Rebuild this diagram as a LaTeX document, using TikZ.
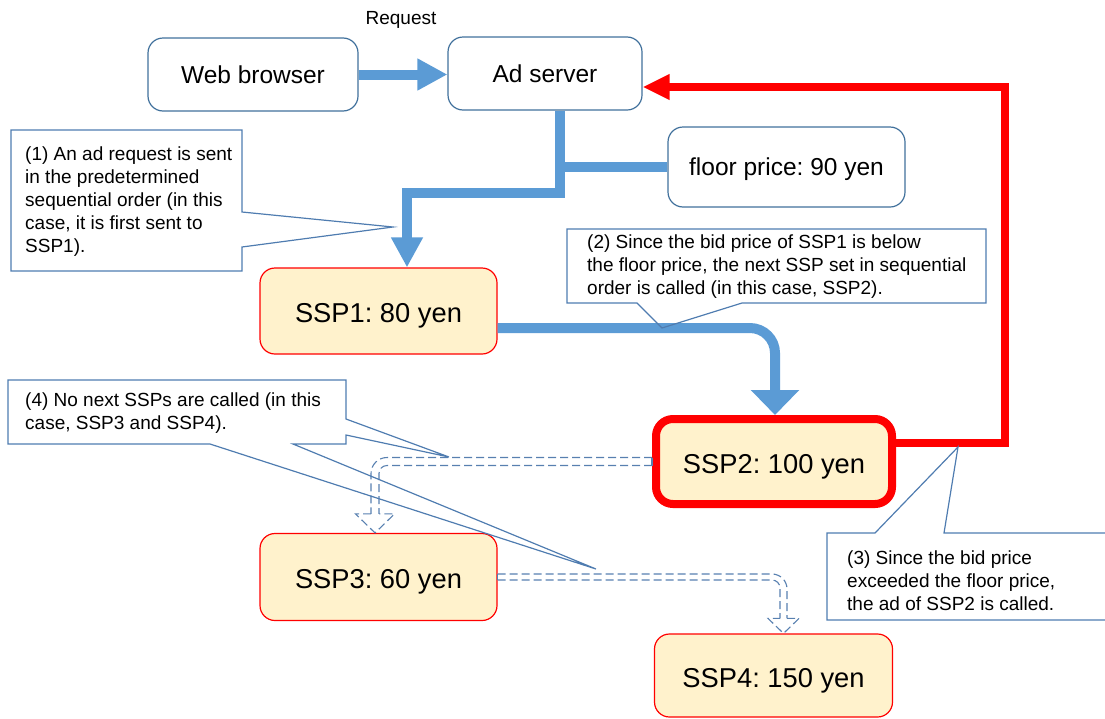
\documentclass[tikz,border=0pt]{standalone}
\usepackage{fontspec}
\setmainfont{Liberation Sans}
\usetikzlibrary{arrows.meta}

\definecolor{frameblue}{RGB}{65,113,156}
\definecolor{flowblue}{RGB}{91,155,213}
\definecolor{notebl}{RGB}{79,124,176}
\definecolor{dashbl}{RGB}{88,128,176}
\definecolor{peach}{RGB}{255,242,204}
\definecolor{alert}{RGB}{255,0,0}

\begin{document}
\frenchspacing
\begin{tikzpicture}[x=1pt,y=-1pt,
  plainbox/.style={draw=frameblue, line width=1.2pt, fill=white, rounded corners=15pt,
    inner sep=0pt, text height=17.5pt, text depth=0pt,
    font=\fontsize{24.5}{29}\selectfont},
  sspbox/.style={draw=alert, line width=1.2pt, fill=peach, rounded corners=15pt,
    inner sep=0pt, text height=23.5pt, text depth=0pt,
    font=\fontsize{27.3}{32}\selectfont},
  winner/.style={sspbox, line width=8pt, rounded corners=17pt},
  flow/.style={draw=flowblue, line width=10pt, line join=miter},
  notetext/.style={anchor=north west, align=left, inner sep=0pt,
    font=\fontsize{19}{23}\selectfont},
  noteframe/.style={draw=notebl, line width=1.2pt, line join=miter},
  ghost/.style={draw=dashbl, line width=1.1pt, dash pattern=on 8pt off 4pt},
]
\useasboundingbox (0,0) rectangle (1105,718);

% boxes
\node[plainbox, minimum width=210pt, minimum height=73pt] (web) at (253,74.5) {Web browser};
\node[plainbox, minimum width=194pt, minimum height=73pt] (ad) at (545,73.5) {Ad server};
\node[plainbox, minimum width=237pt, minimum height=80pt] (floor) at (786.5,167) {floor price: 90 yen};
\node[sspbox, minimum width=237pt, minimum height=86pt] (ssp1) at (378.5,311) {SSP1: 80 yen};
\node[winner, minimum width=236pt, minimum height=85pt] (ssp2) at (774,461.5) {SSP2: 100 yen};
\node[sspbox, minimum width=237pt, minimum height=87pt] (ssp3) at (378.5,577) {SSP3: 60 yen};
\node[sspbox, minimum width=238pt, minimum height=83pt] (ssp4) at (773.5,675.5) {SSP4: 150 yen};
\node[font=\fontsize{19}{22}\selectfont, inner sep=0pt] (req) at (401,20) {Request};

% request flow
\draw[flow, -{Triangle[width=30pt,length=30pt]}] (web.east) -- (web.east -| ad.west);
\coordinate (tap) at ([xshift=15pt]ad.south);
\draw[flow, -{Triangle[width=30pt,length=30pt]}] (tap) -- ++(0,82) -| ([xshift=28.5pt]ssp1.north);
\draw[flow] (tap |- floor.west) -- (floor.west);
\draw[flow, rounded corners=25pt, -{Triangle[width=47pt,length=25pt]}]
  ([yshift=-17pt]ssp1.east) -| ([xshift=1pt]ssp2.north);

% winning bid back to the ad server
\draw[draw=alert, line width=8.5pt, line join=miter, -{Triangle[width=24pt,length=27pt]}]
  ([yshift=18.5pt]ssp2.east) -- ++(109,0) |- ([yshift=-13.5pt]ad.east);

% calls that are not made: hollow dashed arrows
\draw[ghost, rounded corners=16pt] ([yshift=4pt]ssp2.west) -| ([xshift=-7.5pt,yshift=19pt]ssp3.north);
\draw[ghost, rounded corners=8pt] ([yshift=-4pt]ssp2.west) -| ([xshift=0.5pt,yshift=19pt]ssp3.north);
\draw[ghost] ([xshift=-7.5pt,yshift=19pt]ssp3.north) -- ([xshift=-23pt,yshift=19pt]ssp3.north)
  -- ([xshift=-3.5pt]ssp3.north) -- ([xshift=16pt,yshift=19pt]ssp3.north)
  -- ([xshift=0.5pt,yshift=19pt]ssp3.north);
\draw[ghost] ([yshift=4pt]ssp2.west) -- ([yshift=-4pt]ssp2.west);

\draw[ghost, rounded corners=15pt] ([yshift=3pt]ssp3.east) -| ([xshift=13.5pt,yshift=15pt]ssp4.north);
\draw[ghost, rounded corners=8pt] ([yshift=-3pt]ssp3.east) -| ([xshift=6.5pt,yshift=15pt]ssp4.north);
\draw[ghost] ([xshift=13.5pt,yshift=15pt]ssp4.north) -- ([xshift=25.5pt,yshift=15pt]ssp4.north)
  -- ([xshift=10pt]ssp4.north) -- ([xshift=-5.5pt,yshift=15pt]ssp4.north)
  -- ([xshift=6.5pt,yshift=15pt]ssp4.north);
\draw[ghost] ([yshift=3pt]ssp3.east) -- ([yshift=-3pt]ssp3.east);

% callouts
\draw[noteframe] (11,130) -- (242,130) -- (242,212) -- (393,227) -- (242,247) -- (242,271) -- (11,271) -- cycle;
\node[notetext] (n1) at (25,147) {(1) An ad request is sent\\in the predetermined\\sequential order (in this\\case, it is first sent to\\SSP1).};

\draw[noteframe] (567,229) -- (986,229) -- (986,303) -- (742,303) -- (662,328) -- (637,303) -- (567,303) -- cycle;
\node[notetext] (n2) at (587,235) {(2) Since the bid price of SSP1 is below\\the floor price, the next SSP set in sequential\\order is called (in this case, SSP2).};

\draw[noteframe] (827,533) -- (875,533) -- (958,447) -- (944,533) -- (1110,533) -- (1110,620) -- (827,620) -- cycle;
\node[notetext] (n3) at (847,551) {(3) Since the bid price\\exceeded the floor price,\\the ad of SSP2 is called.};

\draw[noteframe] (8,380) -- (346,380) -- (346,419) -- (449,457) -- (346,435) -- (346,444) -- (293,444)
  -- (596,569) -- (210,444) -- (8,444) -- cycle;
\node[notetext] (n4) at (25,393) {(4) No next SSPs are called (in this\\case, SSP3 and SSP4).};
\end{tikzpicture}
\end{document}
